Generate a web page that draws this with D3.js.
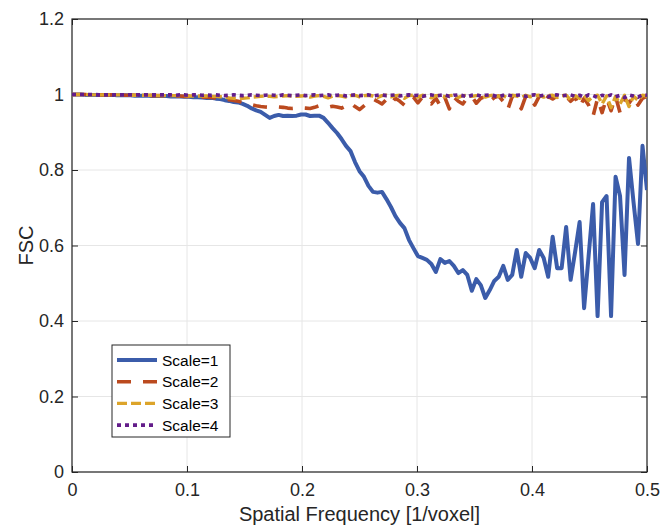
<!DOCTYPE html>
<html>
<head>
<meta charset="utf-8">
<script src="https://cdn.jsdelivr.net/npm/d3@7"></script>
<style>
  body { margin: 0; background: #fff; }
  svg { font-family: "Liberation Sans", Arial, Helvetica, sans-serif; }
  .axis text { fill: #262626; font-size: 18px; }
  .axis line { stroke: #262626; }
  .grid line { stroke: #e6e6e6; stroke-width: 1; }
</style>
</head>
<body>
<div id="chart"></div>
<script>
// FSC curves, one value per frequency bin (k/256, k = 0..128)
var nBins = 128;

var scale1 = [
  1.000, 1.000, 1.000, 0.999, 0.999, 0.999,
  0.999, 0.999, 0.999, 0.999, 0.998,
  0.998, 0.998, 0.998, 0.997, 0.997,
  0.997, 0.997, 0.996, 0.996, 0.996,
  0.996, 0.995, 0.995, 0.995,
  0.994, 0.994, 0.993,
  0.993, 0.992, 0.991, 0.991, 0.989, 0.988, 0.985, 0.983, 0.980, 0.979,
  0.975, 0.970, 0.963, 0.958, 0.954, 0.946, 0.938, 0.943, 0.946, 0.943,
  0.944, 0.943, 0.944, 0.947, 0.947, 0.943, 0.944, 0.944, 0.938, 0.925,
  0.911, 0.898, 0.882, 0.864, 0.850, 0.821, 0.797, 0.782, 0.758, 0.742,
  0.740, 0.742, 0.723, 0.702, 0.678, 0.660, 0.646, 0.615, 0.593, 0.572,
  0.567, 0.562, 0.551, 0.530, 0.564, 0.554, 0.559, 0.546, 0.527, 0.535,
  0.522, 0.480, 0.511, 0.495, 0.461, 0.482, 0.506, 0.517, 0.546, 0.509,
  0.522, 0.588, 0.517, 0.580, 0.567, 0.540, 0.588, 0.567, 0.517, 0.623,
  0.540, 0.540, 0.649, 0.509, 0.583, 0.662, 0.434, 0.572, 0.710, 0.413,
  0.715, 0.731, 0.413, 0.782, 0.731, 0.522, 0.832, 0.715, 0.604, 0.864,
  0.747
];

var scale2 = [
  1.000, 1.000, 1.000, 1.000, 0.999, 0.999, 0.999, 0.999, 0.999, 0.999,
  0.999, 0.999, 0.998, 0.998, 0.998, 0.998, 0.998, 0.997, 0.997, 0.997,
  0.997, 0.997, 0.996, 0.996, 0.996, 0.995, 0.995, 0.994, 0.994, 0.993,
  0.993, 0.992, 0.991, 0.990, 0.988, 0.986, 0.984, 0.982, 0.979, 0.976,
  0.973, 0.970, 0.968, 0.967, 0.966, 0.966, 0.967, 0.966, 0.964, 0.963,
  0.964, 0.965, 0.964, 0.963, 0.966, 0.970, 0.968, 0.966, 0.969, 0.967,
  0.964, 0.970, 0.978, 0.968, 0.960, 0.970, 0.980, 0.988, 0.982, 0.975,
  0.987, 0.975, 0.990, 0.982, 0.972, 0.990, 0.993, 0.978, 0.993, 0.982,
  0.975, 0.990, 0.970, 0.992, 0.962, 0.993, 0.982, 0.975, 0.992, 0.995,
  0.977, 0.990, 0.995, 0.982, 0.992, 0.996, 0.982, 0.960, 0.995, 0.988,
  0.962, 0.995, 0.990, 0.972, 0.995, 0.977, 0.995, 0.988, 0.996, 0.988,
  0.995, 0.982, 0.993, 0.967, 0.990, 0.972, 0.943, 0.990, 0.952, 0.990,
  0.957, 0.995, 0.952, 0.990, 0.977, 0.995, 0.972, 0.990, 0.995
];

var scale3 = [
  1.000, 1.000, 1.000, 1.000, 0.999, 0.999, 0.999, 0.999, 0.999, 0.999,
  0.999, 0.999, 0.998, 0.998, 0.998, 0.998, 0.998, 0.998, 0.998, 0.997,
  0.997, 0.997, 0.997, 0.997, 0.997, 0.997, 0.996, 0.996, 0.996, 0.996,
  0.996, 0.995, 0.995, 0.994, 0.993, 0.991, 0.990, 0.989, 0.990, 0.991,
  0.993, 0.994, 0.995, 0.996, 0.995, 0.994, 0.995, 0.996, 0.997, 0.996,
  0.995, 0.996, 0.997, 0.993, 0.996, 0.997, 0.995, 0.991, 0.996, 0.997,
  0.996, 0.993, 0.997, 0.998, 0.994, 0.997, 0.998, 0.996, 0.992, 0.997,
  0.998, 0.994, 0.997, 0.998, 0.990, 0.997, 0.998, 0.993, 0.998, 0.996,
  0.991, 0.997, 0.998, 0.994, 0.997, 0.998, 0.992, 0.997, 0.998, 0.995,
  0.997, 0.998, 0.993, 0.997, 0.999, 0.995, 0.997, 0.990, 0.998, 0.996,
  0.992, 0.998, 0.994, 0.997, 0.998, 0.993, 0.997, 0.998, 0.992, 0.997,
  0.998, 0.985, 0.997, 0.990, 0.998, 0.984, 0.995, 0.998, 0.975, 0.996,
  0.965, 0.995, 0.975, 0.998, 0.968, 0.995, 0.985, 0.998, 0.996
];

var scale4 = [
  1.000, 1.000, 1.000, 1.000, 1.000, 1.000, 0.999, 0.999, 0.999, 0.999,
  0.999, 0.999, 0.999, 0.999, 0.999, 0.999, 0.999, 0.999, 0.999, 0.999,
  0.999, 0.999, 0.999, 0.998, 0.999, 0.999, 0.998, 0.999, 0.999, 0.998,
  0.999, 0.998, 0.999, 0.998, 0.997, 0.998, 0.999, 0.998, 0.997, 0.998,
  0.999, 0.998, 0.997, 0.998, 0.999, 0.998, 0.997, 0.999, 0.998, 0.997,
  0.998, 0.999, 0.997, 0.998, 0.999, 0.997, 0.998, 0.999, 0.997, 0.998,
  0.999, 0.996, 0.998, 0.999, 0.997, 0.998, 0.999, 0.996, 0.998, 0.999,
  0.997, 0.998, 0.999, 0.996, 0.998, 0.999, 0.997, 0.998, 0.995, 0.998,
  0.999, 0.996, 0.998, 0.999, 0.995, 0.998, 0.999, 0.997, 0.994, 0.998,
  0.999, 0.996, 0.998, 0.999, 0.997, 0.994, 0.998, 0.999, 0.996, 0.998,
  0.999, 0.995, 0.998, 0.999, 0.996, 0.998, 0.994, 0.998, 0.999, 0.996,
  0.998, 0.999, 0.995, 0.998, 0.993, 0.999, 0.997, 0.992, 0.998, 0.995,
  0.999, 0.994, 0.998, 0.992, 0.999, 0.996, 0.993, 0.999, 0.998
];

var seriesNames = ['Scale=1', 'Scale=2', 'Scale=3', 'Scale=4'];
var xTicks = [0, 0.1, 0.2, 0.3, 0.4, 0.5];
var yTicks = [0, 0.2, 0.4, 0.6, 0.8, 1, 1.2];

var series = [
  {name: seriesNames[0], values: scale1, color: '#3b5caa', width: 4, dash: null},
  {name: seriesNames[1], values: scale2, color: '#bb4a1f', width: 3.6, dash: '14,12'},
  {name: seriesNames[2], values: scale3, color: '#dca42a', width: 3.4, dash: '10,4'},
  {name: seriesNames[3], values: scale4, color: '#631d8a', width: 3.6, dash: '4,4'}
];

var width = 661, height = 526;
var margin = {top: 19, right: 14, bottom: 54, left: 72};
var innerW = width - margin.left - margin.right,
    innerH = height - margin.top - margin.bottom;

var svg = d3.select('#chart').append('svg')
    .attr('width', width)
    .attr('height', height);

var g = svg.append('g')
    .attr('transform', 'translate(' + margin.left + ',' + margin.top + ')');

var x = d3.scaleLinear().domain([0, 0.5]).range([0, innerW]);
var y = d3.scaleLinear().domain([0, 1.2]).range([innerH, 0]);

// grid
g.append('g').attr('class', 'grid')
  .selectAll('line.v').data(xTicks).enter().append('line')
    .attr('x1', function(d) { return x(d); })
    .attr('x2', function(d) { return x(d); })
    .attr('y1', 0).attr('y2', innerH);
g.append('g').attr('class', 'grid')
  .selectAll('line.h').data(yTicks).enter().append('line')
    .attr('y1', function(d) { return y(d); })
    .attr('y2', function(d) { return y(d); })
    .attr('x1', 0).attr('x2', innerW);

var fmt = function(d) { return d3.format('~g')(d); };

// axes, ticks pointing inward like matlab
g.append('g').attr('class', 'axis')
    .attr('transform', 'translate(0,' + innerH + ')')
    .call(d3.axisBottom(x).tickValues(xTicks).tickFormat(fmt)
      .tickSizeInner(-6).tickSizeOuter(0).tickPadding(11));
g.append('g').attr('class', 'axis')
    .call(d3.axisLeft(y).tickValues(yTicks).tickFormat(fmt)
      .tickSizeInner(-6).tickSizeOuter(0).tickPadding(8));
g.append('g').attr('class', 'axis')
    .call(d3.axisTop(x).tickValues(xTicks).tickFormat('')
      .tickSizeInner(-6).tickSizeOuter(0));
g.append('g').attr('class', 'axis')
    .attr('transform', 'translate(' + innerW + ',0)')
    .call(d3.axisRight(y).tickValues(yTicks).tickFormat('')
      .tickSizeInner(-6).tickSizeOuter(0));
g.selectAll('.axis path.domain').remove();

// box
g.append('rect')
    .attr('width', innerW).attr('height', innerH)
    .attr('fill', 'none').attr('stroke', '#262626').attr('stroke-width', 1.2);

// lines
g.append('clipPath').attr('id', 'clip')
  .append('rect').attr('width', innerW).attr('height', innerH);

var line = d3.line()
    .x(function(d, i) { return x(i / (2 * nBins)); })
    .y(function(d) { return y(d); });

g.append('g').attr('clip-path', 'url(#clip)')
  .selectAll('path').data(series).enter().append('path')
    .attr('d', function(s) { return line(s.values); })
    .attr('fill', 'none')
    .attr('stroke', function(s) { return s.color; })
    .attr('stroke-width', function(s) { return s.width; })
    .attr('stroke-dasharray', function(s) { return s.dash; })
    .attr('stroke-linejoin', 'round');

// axis labels
svg.append('text')
    .attr('x', margin.left + innerW / 2)
    .attr('y', 521)
    .attr('text-anchor', 'middle')
    .attr('font-size', 20)
    .attr('fill', '#262626')
    .text('Spatial Frequency [1/voxel]');

svg.append('text')
    .attr('transform', 'translate(33,' + (margin.top + innerH / 2) + ') rotate(-90)')
    .attr('text-anchor', 'middle')
    .attr('font-size', 20)
    .attr('fill', '#262626')
    .text('FSC');

// legend
var legend = svg.append('g').attr('transform', 'translate(112,345)');
legend.append('rect')
    .attr('width', 118).attr('height', 92)
    .attr('fill', '#fff').attr('stroke', '#262626').attr('stroke-width', 1);

var item = legend.selectAll('g.item').data(series).enter().append('g')
    .attr('class', 'item')
    .attr('transform', function(d, i) { return 'translate(0,' + (15 + i * 21.7) + ')'; });
item.append('line')
    .attr('x1', 5).attr('x2', 45)
    .attr('stroke', function(s) { return s.color; })
    .attr('stroke-width', function(s) { return s.width; })
    .attr('stroke-dasharray', function(s) { return s.dash; });
item.append('text')
    .attr('x', 50).attr('dy', '0.36em')
    .attr('font-size', 15.5)
    .attr('fill', '#000')
    .text(function(s) { return s.name; });
</script>
</body>
</html>
